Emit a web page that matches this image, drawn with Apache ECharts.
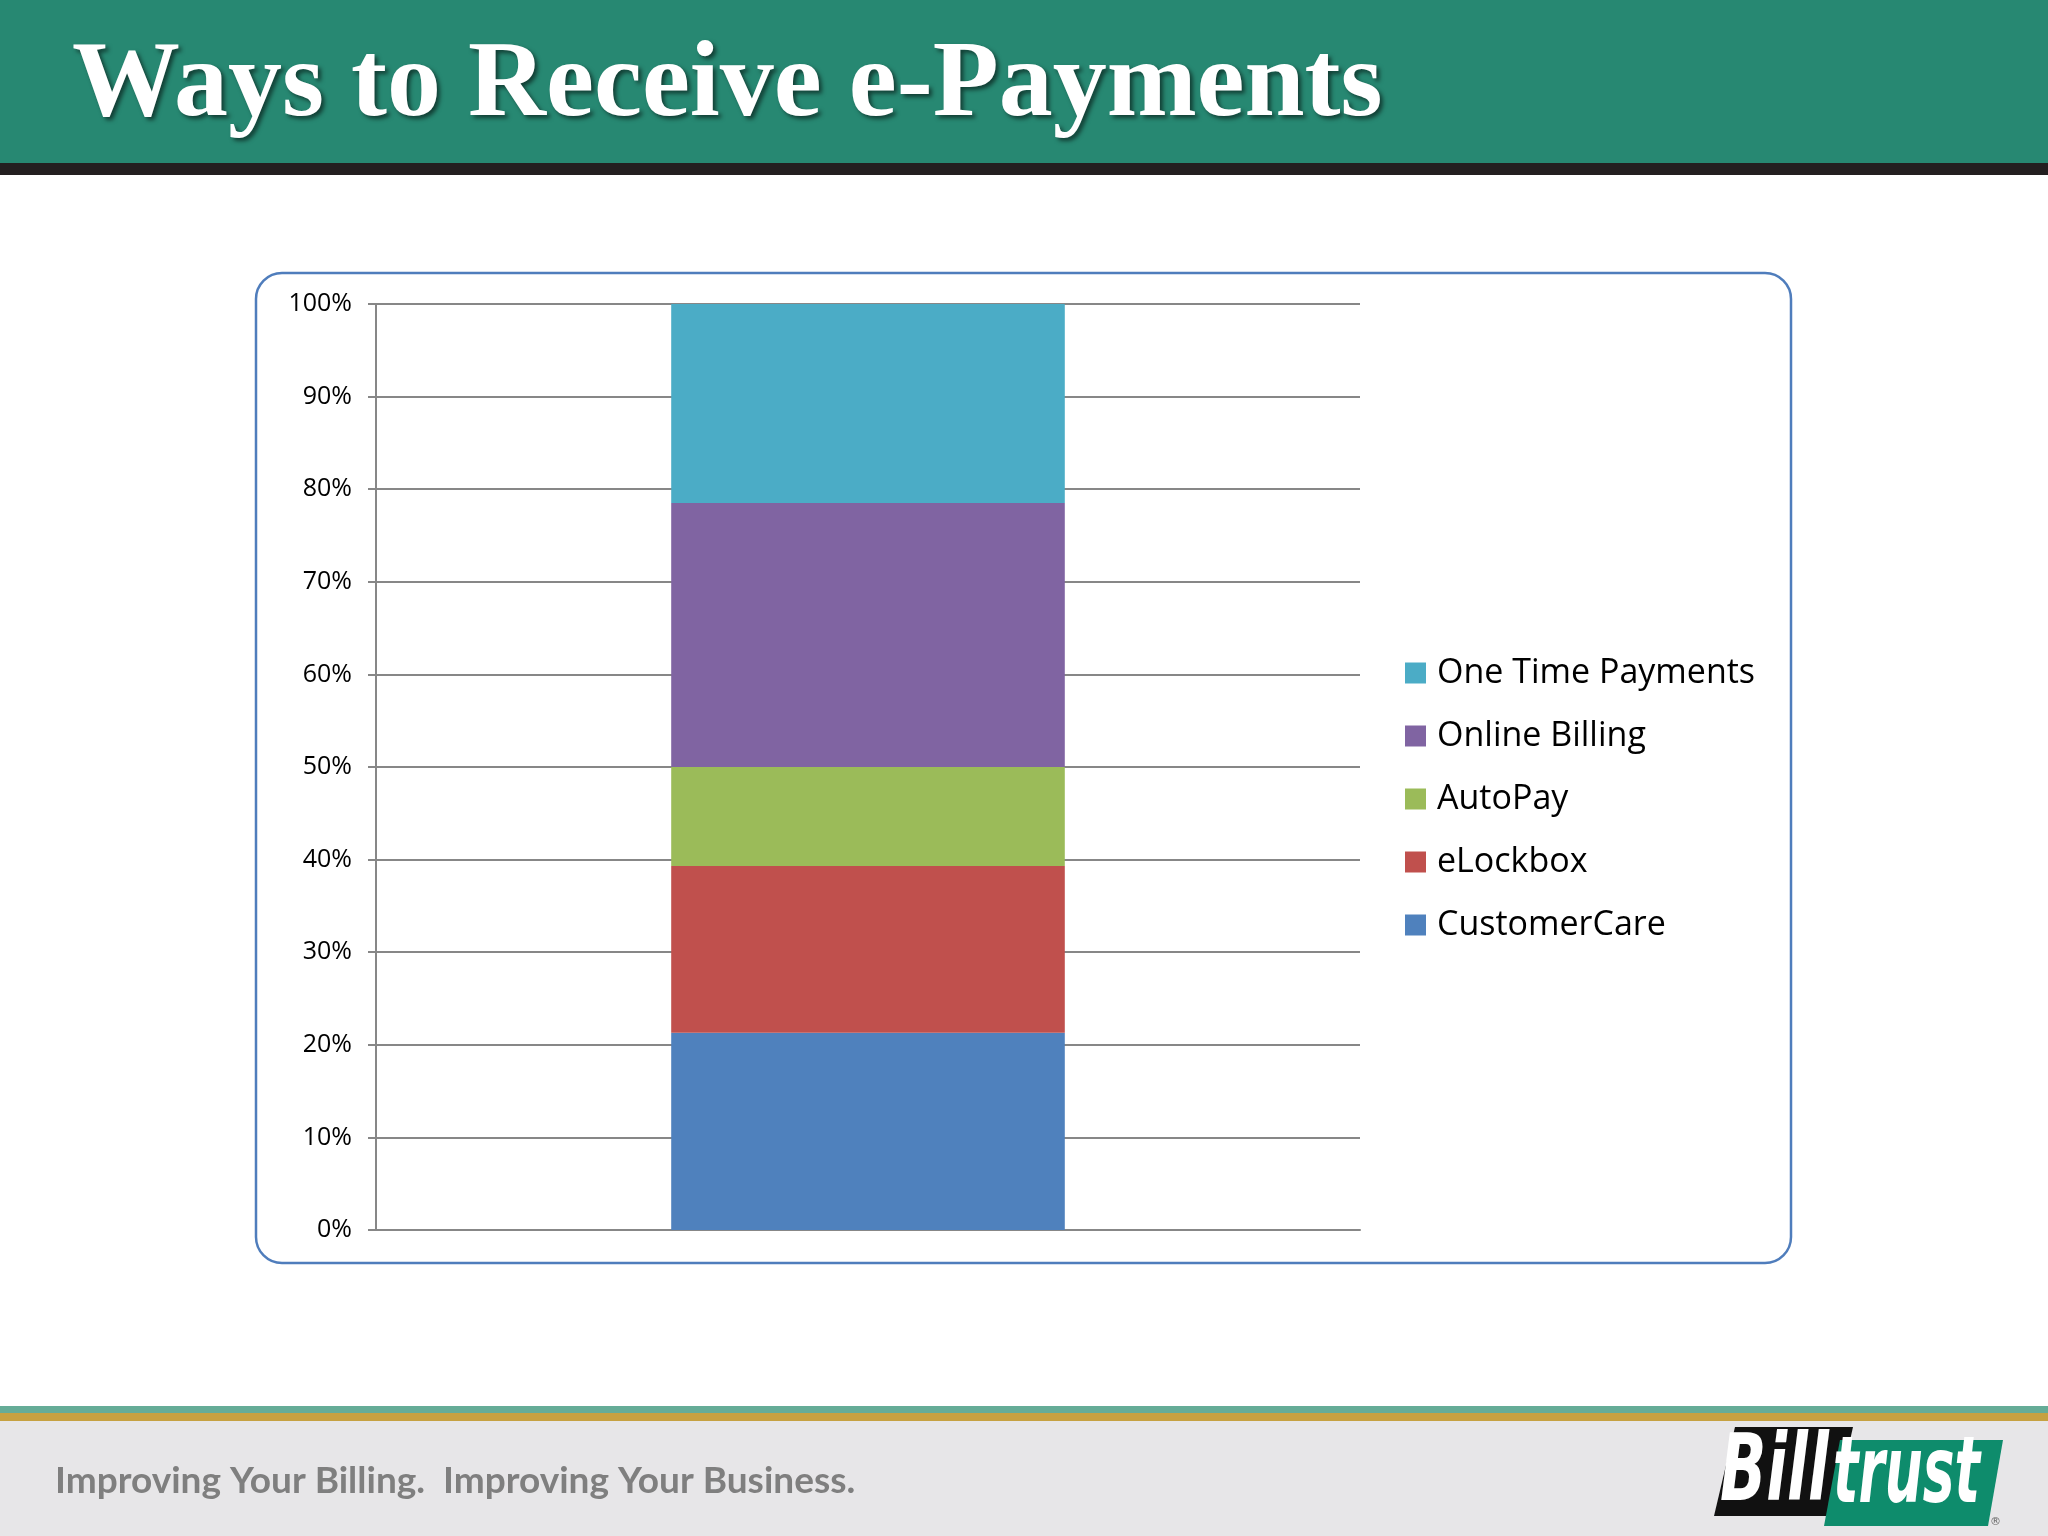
<!DOCTYPE html>
<html>
<head>
<meta charset="utf-8">
<script src="https://cdn.jsdelivr.net/npm/echarts@6/dist/echarts.min.js"></script>
<style>
html,body{margin:0;padding:0;background:#fff;}
#chart{width:2048px;height:1536px;}
</style>
</head>
<body>
<div id="chart"></div>
<script>
// ---- data ----
const categories = ['Ways to Receive e-Payments'];
const seriesNames = ['CustomerCare', 'eLockbox', 'AutoPay', 'Online Billing', 'One Time Payments'];
const customerCare = [21.3];
const eLockbox = [18.0];
const autoPay = [10.7];
const onlineBilling = [28.5];
const oneTimePayments = [21.5];
const legendOrder = ['One Time Payments', 'Online Billing', 'AutoPay', 'eLockbox', 'CustomerCare'];
const seriesColors = ['#4F81BD', '#C0504D', '#9BBB59', '#8064A2', '#4BACC6'];
const titleText = 'Ways to Receive e-Payments';
const footerText = 'Improving Your Billing.  Improving Your Business.';

const seriesValues = [customerCare, eLockbox, autoPay, onlineBilling, oneTimePayments];

const chart = echarts.init(document.getElementById('chart'), null, {renderer: 'canvas'});

const gridColor = '#878787';

const option = {
  backgroundColor: '#ffffff',
  animation: false,
  grid: {left: 376, top: 304, right: 688, bottom: 306, containLabel: false},
  xAxis: {
    type: 'category',
    data: categories,
    axisLine: {show: true, lineStyle: {color: gridColor, width: 2}},
    axisTick: {show: false},
    axisLabel: {show: false}
  },
  yAxis: {
    type: 'value',
    min: 0, max: 100, interval: 10,
    axisLine: {show: true, lineStyle: {color: gridColor, width: 2}},
    axisTick: {show: true, length: 8, lineStyle: {color: gridColor, width: 2}},
    axisLabel: {
      formatter: '{value}%',
      margin: 24,
      fontFamily: 'Open Sans',
      fontSize: 25,
      color: '#000'
    },
    splitLine: {show: true, lineStyle: {color: gridColor, width: 2}}
  },
  legend: {
    orient: 'vertical',
    left: 1400,
    top: 651,
    data: legendOrder,
    icon: 'rect',
    itemWidth: 21,
    itemHeight: 21,
    itemGap: 29,
    textStyle: {fontFamily: 'Open Sans', fontSize: 34, color: '#000', lineHeight: 34, padding: [0, 0, 0, 6]}
  },
  series: seriesNames.map((n, i) => ({
    name: n,
    type: 'bar',
    stack: 'total',
    barWidth: '40%',
    data: seriesValues[i],
    itemStyle: {color: seriesColors[i]},
    emphasis: {disabled: true}
  })),
  graphic: [
    // header band
    {type: 'rect', shape: {x: 0, y: 0, width: 2048, height: 163}, style: {fill: '#278872'}, silent: true, z: -10},
    {type: 'rect', shape: {x: 0, y: 163, width: 2048, height: 12}, style: {fill: '#231F20'}, silent: true, z: -10},
    {type: 'text', x: 72, y: 33, silent: true,
      style: {text: titleText, fill: '#ffffff', font: 'bold 108px "Liberation Serif"',
        textShadowColor: 'rgba(0,0,0,0.55)', textShadowBlur: 4, textShadowOffsetX: 3, textShadowOffsetY: 3}},
    // chart frame
    {type: 'rect', shape: {x: 256, y: 273, width: 1535, height: 990, r: 26}, style: {fill: 'none', stroke: '#4F7DBC', lineWidth: 2.5}, silent: true, z: -5},
    // footer
    {type: 'rect', shape: {x: 0, y: 1406, width: 2048, height: 7}, style: {fill: '#65AC97'}, silent: true, z: -10},
    {type: 'rect', shape: {x: 0, y: 1413, width: 2048, height: 8}, style: {fill: '#C6A141'}, silent: true, z: -10},
    {type: 'rect', shape: {x: 0, y: 1421, width: 2048, height: 115}, style: {fill: '#E7E6E8'}, silent: true, z: -10},
    {type: 'text', x: 55, y: 1481, silent: true,
      style: {text: footerText, fill: '#7F7F7F', font: 'bold 37px Lato', verticalAlign: 'middle'}},
    // logo
    {type: 'polygon', shape: {points: [[1735, 1427], [1853, 1427], [1833, 1516], [1714, 1516]]}, style: {fill: '#111111'}, silent: true, z: 10},
    {type: 'polygon', shape: {points: [[1840, 1440], [2003, 1440], [1988, 1526], [1824, 1526]]}, style: {fill: '#0E8C6C'}, silent: true, z: 11},
    {type: 'text', x: 1720, y: 1476, scaleX: 0.66, silent: true, z: 12,
      style: {text: 'Bill', fill: '#ffffff', font: 'italic bold 92px "DejaVu Sans"', verticalAlign: 'middle'}},
    {type: 'text', x: 1833, y: 1478, scaleX: 0.58, silent: true, z: 12,
      style: {text: 'trust', fill: '#ffffff', font: 'italic bold 92px "DejaVu Sans"', verticalAlign: 'middle'}},
    {type: 'text', x: 1990, y: 1522, silent: true, z: 12,
      style: {text: '®', fill: '#666', font: '11px "DejaVu Sans"', verticalAlign: 'middle'}}
  ]
};
chart.setOption(option);
</script>
</body>
</html>
